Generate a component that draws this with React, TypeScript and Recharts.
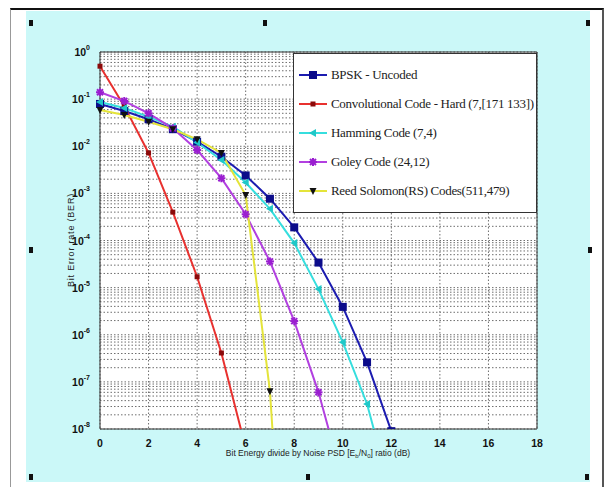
import React from "react";
import {
  LineChart,
  Line,
  XAxis,
  YAxis,
  CartesianGrid,
  Legend,
  ReferenceArea,
} from "recharts";

// Eb/N0 in dB, one point per dB
const ebN0 = [0, 1, 2, 3, 4, 5, 6, 7, 8, 9, 10, 11, 12];

// BER values (points below 1e-8 are clipped by the axis)
const bpsk = [7.9e-2, 5.6e-2, 3.75e-2, 2.3e-2, 1.25e-2, 6e-3, 2.4e-3, 7.7e-4, 1.9e-4, 3.4e-5, 3.9e-6, 2.6e-7, 9e-9];
const conv = [0.5, 7.1e-2, 7.2e-3, 4e-4, 1.7e-5, 4.1e-7, 4e-9, null, null, null, null, null, null];
const hamming = [8.7e-2, 6.5e-2, 4.2e-2, 2.6e-2, 1.2e-2, 5.1e-3, 1.7e-3, 4.7e-4, 8.8e-5, 9.3e-6, 6.9e-7, 3.4e-8, 4e-10];
const golay = [0.14, 9.1e-2, 5e-2, 2.4e-2, 8.3e-3, 2.1e-3, 3.6e-4, 3.6e-5, 1.95e-6, 6e-8, 8e-10, null, null];
const rs = [5.9e-2, 4.6e-2, 3.3e-2, 2.3e-2, 1.4e-2, 7.2e-3, 9.2e-4, 6.3e-8, 1e-15, null, null, null, null];

const xTicks = [0, 2, 4, 6, 8, 10, 12, 14, 16, 18];
const decades = [-8, -7, -6, -5, -4, -3, -2, -1];

const yTicks: number[] = [];
decades.forEach((d) => {
  for (let k = 1; k <= 9; k++) yTicks.push(k * Math.pow(10, d));
});
yTicks.push(1);

const data = ebN0.map((x, i) => ({
  x,
  bpsk: bpsk[i],
  conv: conv[i],
  hamming: hamming[i],
  golay: golay[i],
  rs: rs[i],
}));

type Marker = "square" | "smallSquare" | "triangle" | "star" | "down";

const series: { key: string; name: string; stroke: string; mark: string; marker: Marker }[] = [
  { key: "bpsk", name: "BPSK - Uncoded", stroke: "#1c1cb0", mark: "#0c0c8a", marker: "square" },
  { key: "conv", name: "Convolutional Code - Hard (7,[171 133])", stroke: "#e8312f", mark: "#8b0a0a", marker: "smallSquare" },
  { key: "hamming", name: "Hamming Code (7,4)", stroke: "#36dede", mark: "#1fc8c8", marker: "triangle" },
  { key: "golay", name: "Goley Code (24,12)", stroke: "#b240e0", mark: "#9a1fd0", marker: "star" },
  { key: "rs", name: "Reed Solomon(RS) Codes(511,479)", stroke: "#e4e43a", mark: "#111111", marker: "down" },
];

function markerShape(marker: Marker, cx: number, cy: number, color: string, key?: any) {
  switch (marker) {
    case "square":
      return <rect key={key} x={cx - 4} y={cy - 4} width={8} height={8} fill={color} />;
    case "smallSquare":
      return <rect key={key} x={cx - 2.5} y={cy - 2.5} width={5} height={5} fill={color} />;
    case "triangle":
      return <path key={key} d={`M${cx - 4},${cy} L${cx + 3},${cy - 4} L${cx + 3},${cy + 4} Z`} fill={color} />;
    case "star":
      return (
        <g key={key} stroke={color} strokeWidth={2}>
          <line x1={cx - 4} y1={cy} x2={cx + 4} y2={cy} />
          <line x1={cx} y1={cy - 4} x2={cx} y2={cy + 4} />
          <line x1={cx - 3} y1={cy - 3} x2={cx + 3} y2={cy + 3} />
          <line x1={cx - 3} y1={cy + 3} x2={cx + 3} y2={cy - 3} />
        </g>
      );
    case "down":
      return <path key={key} d={`M${cx - 3.5},${cy - 3} L${cx + 3.5},${cy - 3} L${cx},${cy + 4} Z`} fill={color} />;
  }
}

function YTick(props: any) {
  const { x, y, payload } = props;
  const v = payload.value;
  const e = Math.round(Math.log10(v));
  if (Math.abs(v / Math.pow(10, e) - 1) > 1e-6) return null;
  return (
    <text x={x - 2} y={y + 4} textAnchor="end" fontFamily="Liberation Sans, Arial" fontWeight="bold" fontSize={10.5} fill="#111">
      10
      <tspan dy={-6} fontSize={7}>
        {e}
      </tspan>
    </text>
  );
}

function XTick(props: any) {
  const { x, y, payload } = props;
  return (
    <text x={x} y={y + 10} textAnchor="middle" fontFamily="Liberation Sans, Arial" fontWeight="bold" fontSize={10.5} fill="#111">
      {payload.value}
    </text>
  );
}

function BerLegend() {
  return (
    <div
      style={{
        width: 242,
        height: 152,
        background: "#fff",
        border: "1px solid #333",
        boxSizing: "content-box",
        paddingTop: 6,
      }}
    >
      {series.map((s) => (
        <div key={s.key} style={{ display: "flex", alignItems: "center", height: 29 }}>
          <svg width={34} height={12} style={{ marginLeft: 3 }}>
            <line x1={2} y1={6} x2={30} y2={6} stroke={s.stroke} strokeWidth={2} />
            {markerShape(s.marker, 16, 6, s.mark)}
          </svg>
          <span
            style={{
              fontFamily: "Liberation Serif, Times New Roman, serif",
              fontSize: 13,
              color: "#222",
              whiteSpace: "nowrap",
              letterSpacing: -0.3,
            }}
          >
            {s.name}
          </span>
        </div>
      ))}
    </div>
  );
}

const handles = [
  [31, 23],
  [265, 23],
  [588, 23],
  [31, 250],
  [590, 250],
  [31, 477],
  [308, 477],
  [587, 477],
];

export default function App() {
  return (
    <div style={{ position: "relative", width: 608, height: 487, background: "#fff", overflow: "hidden" }}>
      <style>{`body{margin:0}`}</style>
      <div
        style={{
          position: "absolute",
          left: 10,
          top: 8,
          width: 594,
          height: 480,
          borderTop: "2px solid #111",
          borderLeft: "1px solid #999",
          borderRight: "2px solid #555",
          boxSizing: "border-box",
        }}
      />
      <div style={{ position: "absolute", left: 26, top: 11, width: 564, height: 471, background: "#cbf8f8" }} />
      {handles.map(([hx, hy], i) => (
        <div key={i} style={{ position: "absolute", left: hx - 2, top: hy - 3, width: 4, height: 6, background: "#111" }} />
      ))}
      <div style={{ position: "absolute", left: 0, top: 0 }}>
        <LineChart width={608} height={487} data={data} margin={{ top: 52, right: 71, bottom: 0, left: 0 }}>
          <CartesianGrid stroke="#6e6e6e" strokeDasharray="1.5 2" fill="#fff" />
          <XAxis
            dataKey="x"
            type="number"
            domain={[0, 18]}
            ticks={xTicks}
            height={58}
            tick={<XTick />}
            tickLine={false}
            axisLine={false}
            label={{
              content: () => (
                <text x={318} y={456} textAnchor="middle" fontFamily="Liberation Sans, Arial" fontSize={8.5} fill="#222">
                  Bit Energy divide by Noise PSD [E
                  <tspan fontSize={6} dy={2}>b</tspan>
                  <tspan dy={-2}>/N</tspan>
                  <tspan fontSize={6} dy={2}>0</tspan>
                  <tspan dy={-2}>] ratio (dB)</tspan>
                </text>
              ),
            }}
          />
          <YAxis
            type="number"
            scale="log"
            domain={[1e-8, 1]}
            allowDataOverflow
            ticks={yTicks}
            interval={0}
            width={100}
            tick={<YTick />}
            tickLine={false}
            axisLine={false}
            label={{
              content: () => (
                <text
                  x={74}
                  y={240}
                  transform="rotate(-90 74 240)"
                  textAnchor="middle"
                  fontFamily="Liberation Sans, Arial"
                  fontSize={9}
                  fill="#222"
                  letterSpacing={0.8}
                >
                  Bit Error rate (BER)
                </text>
              ),
            }}
          />
          <ReferenceArea x1={0} x2={18} y1={1e-8} y2={1} fill="none" stroke="#333" strokeWidth={1} />
          {series.map((s) => (
            <Line
              key={s.key}
              dataKey={s.key}
              name={s.name}
              type="linear"
              stroke={s.stroke}
              strokeWidth={2}
              isAnimationActive={false}
              dot={(p: any) =>
                p.cx == null || p.cy == null || p.value == null
                  ? <g key={p.index} />
                  : markerShape(s.marker, p.cx, p.cy, s.mark, p.index)
              }
              activeDot={false}
            />
          ))}
          <Legend
            layout="vertical"
            align="center"
            verticalAlign="middle"
            wrapperStyle={{ left: 293, top: 53, width: 244 }}
            content={() => <BerLegend />}
          />
        </LineChart>
      </div>
    </div>
  );
}
